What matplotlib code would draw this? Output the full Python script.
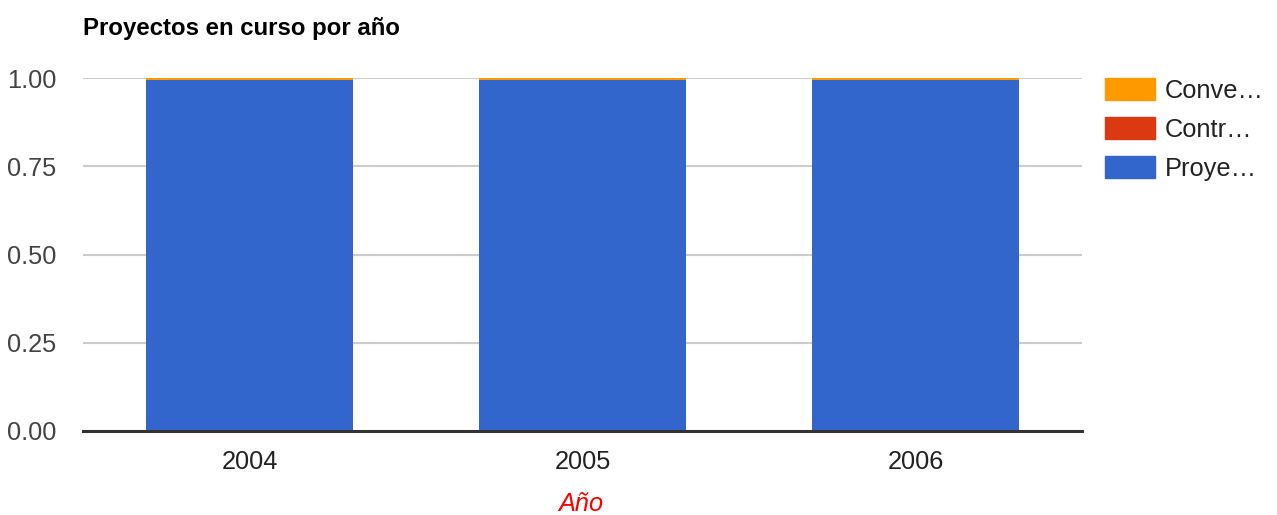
import numpy as np
import matplotlib
matplotlib.use('Agg')
import matplotlib.pyplot as plt
from matplotlib.patches import Patch

plt.rcParams['font.family'] = ['Liberation Sans', 'DejaVu Sans']

# datos (fracción de proyectos en curso por año)
years = ['2004', '2005', '2006']
proyectos = [0.995, 0.995, 0.995]
contratos = [0.0, 0.0, 0.0]
convenios = [0.005, 0.005, 0.005]
series_names = ['Conve…', 'Contr…', 'Proye…']
colors = {'Proye…': '#3366CC', 'Contr…': '#DC3912', 'Conve…': '#FF9900'}

fig = plt.figure(figsize=(12.77, 5.15), dpi=100)
ax = fig.add_axes([83 / 1277, 84 / 515, (1082 - 83) / 1277, (431 - 78) / 515])

x = np.arange(len(years))
w = 0.623
b1 = np.array(proyectos)
b2 = b1 + np.array(contratos)
ax.bar(x, proyectos, w, color=colors['Proye…'], zorder=3)
ax.bar(x, contratos, w, bottom=b1, color=colors['Contr…'], zorder=3)
ax.bar(x, convenios, w, bottom=b2, color=colors['Conve…'], zorder=3)

ax.set_xlim(-0.5, len(years) - 0.5)
ax.set_ylim(0, 1)
ax.set_yticks([0, 0.25, 0.5, 0.75, 1.0])
ax.set_yticklabels(['0.00', '0.25', '0.50', '0.75', '1.00'])
ax.set_xticks(x)
ax.set_xticklabels(years)
ax.yaxis.grid(True, color='#cccccc', linewidth=1.5, zorder=0)
ax.set_axisbelow(True)
for s in ['top', 'right', 'left']:
    ax.spines[s].set_visible(False)
ax.spines['bottom'].set_color('#333333')
ax.spines['bottom'].set_linewidth(2.2)
ax.spines['bottom'].set_zorder(4)
ax.tick_params(axis='both', length=0, labelsize=18.3)
ax.tick_params(axis='y', pad=19, labelcolor='#444444')
ax.tick_params(axis='x', pad=14, labelcolor='#222222')

fig.text(581 / 1277, 1 - 504 / 515, 'Año', color='red', style='italic',
         fontsize=18.3, ha='center', va='center')

fig.text(83 / 1277, 1 - 29 / 515, 'Proyectos en curso por año', fontsize=17.3,
         fontweight='bold', va='center', ha='left')

handles = [Patch(color=colors[n]) for n in series_names]
leg = fig.legend(handles, series_names, loc='upper left',
                 bbox_to_anchor=(1105 / 1277, 1 - 78 / 515), frameon=False,
                 fontsize=18.3, handlelength=1.95, handleheight=0.97,
                 labelspacing=0.56, handletextpad=0.4, borderaxespad=0,
                 borderpad=0)
for t in leg.get_texts():
    t.set_color('#222222')

fig.savefig('out.png', dpi=100)
